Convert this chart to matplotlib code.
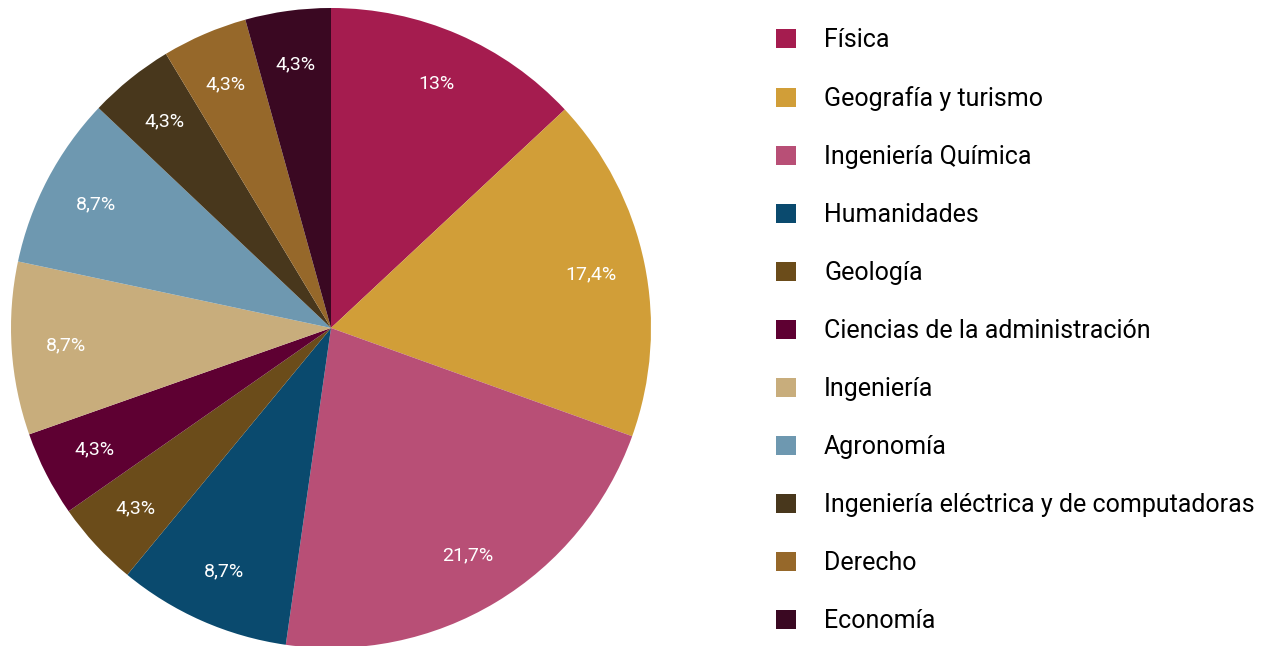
import numpy as np
import matplotlib.pyplot as plt
from matplotlib.patches import Patch

plt.rcParams['font.family'] = ['Roboto', 'DejaVu Sans']

carreras = ['Física', 'Geografía y turismo', 'Ingeniería Química', 'Humanidades',
            'Geología', 'Ciencias de la administración', 'Ingeniería', 'Agronomía',
            'Ingeniería eléctrica y de computadoras', 'Derecho', 'Economía']
porcentajes = [13, 17.4, 21.7, 8.7, 4.3, 4.3, 8.7, 8.7, 4.3, 4.3, 4.3]
etiquetas = ['13%', '17,4%', '21,7%', '8,7%', '4,3%', '4,3%', '8,7%', '8,7%', '4,3%', '4,3%', '4,3%']
colores = ['#A51C4F', '#D19E38', '#B84F76', '#0A4A6E', '#6B4C1A', '#5E0032',
           '#C8AD7C', '#6E98B0', '#48371C', '#96682A', '#3A0822']

fig = plt.figure(figsize=(12.64, 6.46), dpi=100)
ax = fig.add_axes([11 / 1264, -2 / 646, 640 / 1264, 640 / 646])

wedges, _ = ax.pie(porcentajes, colors=colores, startangle=90, counterclock=False,
                   radius=1, wedgeprops=dict(linewidth=0))
ax.set_xlim(-1, 1)
ax.set_ylim(-1, 1)
ax.set_aspect('equal')
ax.axis('off')

# etiquetas de porcentaje dentro de cada sector
for w, txt in zip(wedges, etiquetas):
    ang = np.deg2rad((w.theta1 + w.theta2) / 2)
    ax.text(0.83 * np.cos(ang), 0.83 * np.sin(ang), txt, color='white',
            ha='center', va='center', fontsize=14)

handles = [Patch(facecolor=c, edgecolor='none') for c in colores]
fig.legend(handles, carreras, loc='center left', bbox_to_anchor=(776 / 1264, 0.488),
           frameon=False, fontsize=18, handlelength=0.8, handleheight=0.8,
           handletextpad=1.12, labelspacing=1.36, borderpad=0, borderaxespad=0)

fig.savefig('out.png', dpi=100)
